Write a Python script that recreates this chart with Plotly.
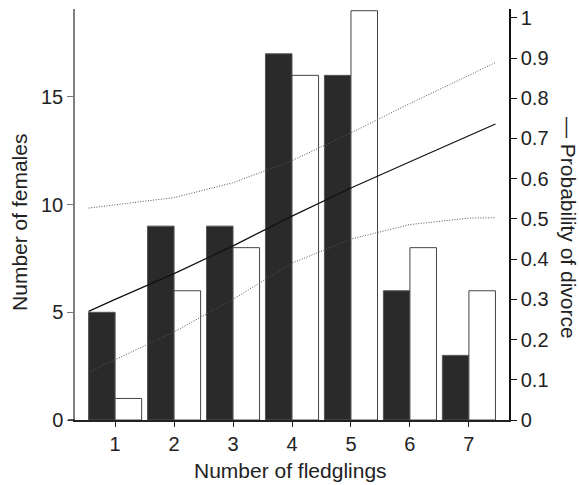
import plotly.graph_objects as go

# ---- data ----
fledglings = [1, 2, 3, 4, 5, 6, 7]
females_dark = [5, 9, 9, 17, 16, 6, 3]
females_light = [1, 6, 8, 16, 19, 8, 6]

curve_x = [0.55, 1, 2, 3, 4, 5, 6, 7, 7.45]
prob_divorce = [0.27, 0.3, 0.364, 0.433, 0.507, 0.577, 0.642, 0.706, 0.736]
prob_upper = [0.527, 0.535, 0.553, 0.59, 0.645, 0.714, 0.787, 0.857, 0.889]
prob_lower = [0.118, 0.15, 0.219, 0.30, 0.39, 0.45, 0.486, 0.502, 0.503]

left_ticks = [0, 5, 10, 15]
right_ticks = [0, 0.1, 0.2, 0.3, 0.4, 0.5, 0.6, 0.7, 0.8, 0.9, 1]
right_labels = ["0", "0.1", "0.2", "0.3", "0.4", "0.5", "0.6", "0.7", "0.8", "0.9", "1"]

FONT = "Liberation Sans, Arial, Helvetica, sans-serif"

fig = go.Figure()
fig.add_trace(go.Bar(x=fledglings, y=females_dark, offsetgroup="a",
                     marker=dict(color="#2a2a2a", line=dict(color="#555555", width=1)),
                     yaxis="y"))
fig.add_trace(go.Bar(x=fledglings, y=females_light, offsetgroup="b",
                     marker=dict(color="white", line=dict(color="#444444", width=1)),
                     yaxis="y"))
fig.add_trace(go.Scatter(x=curve_x, y=prob_upper, mode="lines", yaxis="y2",
                         line=dict(color="#555555", width=1, dash="1px,1.6px")))
fig.add_trace(go.Scatter(x=curve_x, y=prob_lower, mode="lines", yaxis="y2",
                         line=dict(color="#555555", width=1, dash="1px,1.6px")))
fig.add_trace(go.Scatter(x=curve_x, y=prob_divorce, mode="lines", yaxis="y2",
                         line=dict(color="#111111", width=1.2)))

W, H = 579, 485
L, R, T, B = 75, 70, 7, 65
pw, ph = W - L - R, H - T - B

def px(x):
    return (x - L) / pw

def py(y):
    return (H - B - y) / ph

fig.update_layout(
    width=W, height=H,
    margin=dict(l=L, r=R, t=T, b=B, pad=0),
    paper_bgcolor="white", plot_bgcolor="white",
    showlegend=False,
    barmode="group", bargap=0.1, bargroupgap=0,
    font=dict(family=FONT, size=20, color="#222222"),
    xaxis=dict(range=[0.32, 7.68], tickvals=fledglings, ticks="outside", ticklen=5,
               tickcolor="#222222", showline=True, linecolor="#222222", linewidth=1.5,
               showgrid=False, zeroline=False, tickfont=dict(size=20)),
    yaxis=dict(range=[0, 19.08], tickvals=left_ticks, ticks="outside", ticklen=6,
               tickcolor="#777777", showline=True, linecolor="#808080", linewidth=1.5,
               showgrid=False, zeroline=False, tickfont=dict(size=20)),
    yaxis2=dict(range=[0, 1.022], tickvals=right_ticks, ticktext=right_labels,
                overlaying="y", side="right", ticks="outside", ticklen=6,
                tickcolor="#111111", showline=True, linecolor="#111111", linewidth=1.5,
                showgrid=False, zeroline=False, tickfont=dict(size=20)),
    shapes=[dict(type="line", xref="paper", yref="paper", x0=px(68), x1=0, y0=0, y1=0,
                 line=dict(color="#222222", width=1.5))],
    annotations=[
        dict(text="Number of females", xref="paper", yref="paper", x=px(20), y=py(222),
             textangle=-90, showarrow=False, font=dict(size=21), xanchor="center", yanchor="middle"),
        dict(text="— Probability of divorce", xref="paper", yref="paper", x=px(568), y=py(227),
             textangle=90, showarrow=False, font=dict(size=21), xanchor="center", yanchor="middle"),
        dict(text="Number of fledglings", xref="paper", yref="paper", x=px(290), y=py(471),
             showarrow=False, font=dict(size=21), xanchor="center", yanchor="middle"),
    ],
)

fig.write_html("out.html", config={"displayModeBar": False},
               post_script="document.body.style.margin='0';document.body.style.overflow='hidden';")
